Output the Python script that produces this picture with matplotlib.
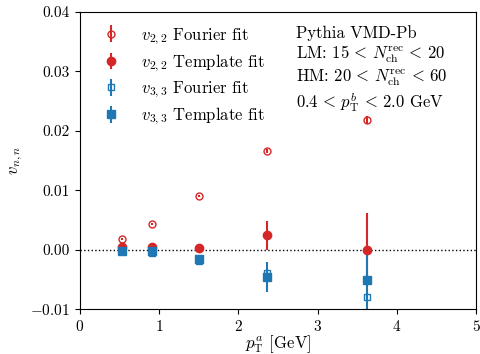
import matplotlib
matplotlib.use("Agg")
import matplotlib.pyplot as plt
import numpy as np

# p_T^a bin centres
pt = [0.53, 0.905, 1.50, 2.365, 3.62]

v22_fourier = [0.0018, 0.0043, 0.0090, 0.0166, 0.0218]
v22_fourier_err = [0.0002, 0.0002, 0.0002, 0.0003, 0.0007]
v22_template = [0.0004, 0.0005, 0.0003, 0.0024, 0.0000]
v22_template_err = [0.0003, 0.0003, 0.0007, 0.0025, 0.0061]

v33_fourier = [-0.0003, -0.0006, -0.0019, -0.0040, -0.0079]
v33_fourier_err = [0.0002, 0.0002, 0.0002, 0.0003, 0.0006]
v33_template = [-0.0002, -0.0002, -0.0016, -0.0046, -0.0051]
v33_template_err = [0.0003, 0.0003, 0.0005, 0.0025, 0.0055]

plt.rcParams["font.family"] = "serif"
plt.rcParams["font.serif"] = ["cmr10"]
plt.rcParams["mathtext.fontset"] = "cm"
plt.rcParams["axes.formatter.use_mathtext"] = True
plt.rcParams["font.size"] = 11

red = "#d62728"
blue = "#1f77b4"

fig, ax = plt.subplots(figsize=(4.81, 3.54), dpi=100)
ax.axhline(0, color="black", ls=":", lw=1)

ax.errorbar(pt, v22_fourier, yerr=v22_fourier_err, fmt="o", mfc="none", mec=red,
            color=red, ms=5, label=r"$v_{2,2}$ Fourier fit")
ax.errorbar(pt, v22_template, yerr=v22_template_err, fmt="o", color=red, ms=6,
            label=r"$v_{2,2}$ Template fit")
ax.errorbar(pt, v33_fourier, yerr=v33_fourier_err, fmt="s", mfc="none", mec=blue,
            color=blue, ms=5, label=r"$v_{3,3}$ Fourier fit")
ax.errorbar(pt, v33_template, yerr=v33_template_err, fmt="s", color=blue, ms=6,
            label=r"$v_{3,3}$ Template fit")

ax.set_xlim(0, 5)
ax.set_ylim(-0.01, 0.04)
ax.set_xticks([0, 1, 2, 3, 4, 5])
ax.set_yticks([-0.01, 0.0, 0.01, 0.02, 0.03, 0.04])
ax.set_yticklabels(["$-0.01$", "0.00", "0.01", "0.02", "0.03", "0.04"])
ax.set_xlabel(r"$p_{\mathrm{T}}^{a}$ [GeV]", fontsize=12, labelpad=0)
ax.set_ylabel(r"$v_{n,n}$", fontsize=12)

ax.legend(loc="upper left", frameon=False, handletextpad=0.8, fontsize=12,
          labelspacing=0.35, borderaxespad=0.45)
ax.text(0.545, 0.955,
        "Pythia VMD-Pb\n"
        r"LM: $15\,<\,N_{\mathrm{ch}}^{\mathrm{rec}}\,<\,20$" "\n"
        r"HM: $20\,<\,N_{\mathrm{ch}}^{\mathrm{rec}}\,<\,60$" "\n"
        r"$0.4\,<\,p_{\mathrm{T}}^{b}\,<\,2.0$ GeV",
        transform=ax.transAxes, va="top", ha="left", linespacing=1.15, fontsize=12)

fig.subplots_adjust(left=0.166, right=0.99, top=0.966, bottom=0.127)
fig.savefig("out.png", dpi=100)
